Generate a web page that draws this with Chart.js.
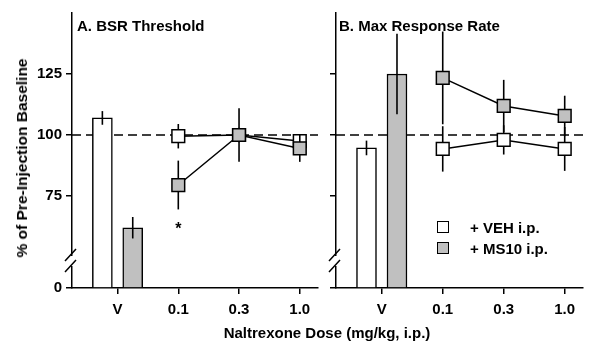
<!DOCTYPE html>
<html>
<head>
<meta charset="utf-8">
<script src="https://cdn.jsdelivr.net/npm/chart.js@4/dist/chart.umd.min.js"></script>
<style>
  body { margin: 0; background: #fff; }
  #wrap { position: relative; width: 600px; height: 353px; overflow: hidden; font-family: "Liberation Sans", Arial, sans-serif; font-weight: bold; color: #000; }
  canvas { position: absolute; top: 0; }
  .txt { position: absolute; font-size: 15px; line-height: 18px; white-space: nowrap; }
  .box { position: absolute; width: 10px; height: 10px; border: 1.5px solid #000; }
</style>
</head>
<body>
<div id="wrap">
  <canvas id="chartA" width="320" height="353" style="left:0"></canvas>
  <canvas id="chartB" width="280" height="353" style="left:320px"></canvas>
  <div class="txt" style="left:22px; top:158px; transform: translate(-50%, -50%) rotate(-90deg); font-size:15.5px">% of Pre-Injection Baseline</div>
  <div class="txt" style="left:77px; top:17px">A. BSR Threshold</div>
  <div class="txt" style="left:339px; top:17px">B. Max Response Rate</div>
  <div class="txt" style="left:327px; top:324px; transform: translateX(-50%)">Naltrexone Dose (mg/kg, i.p.)</div>
  <div class="box" style="left:437px; top:221px; background:#fff"></div>
  <div class="box" style="left:437px; top:242px; background:#c0c0c0"></div>
  <div class="txt" style="left:470px; top:219px">+ VEH i.p.</div>
  <div class="txt" style="left:470px; top:240px">+ MS10 i.p.</div>
</div>
<script>
// doses along the x axis (V = vehicle, shown as bars)
const doseLabels = ["V", "0.1", "0.3", "1.0"];
const doseX = [0, 1, 2, 3];
const barX = [-0.25, 0.25];
const yTicks = [0, 75, 100, 125];

// A. BSR threshold
const bsrBars = [107, 62];
const bsrBarsErr = [2.8, 4.4];
const bsrVeh = [99.5, 100, 97.5];
const bsrVehErr = [5, 3, 2];
const bsrMs10 = [79.5, 100, 94.5];
const bsrMs10Err = [10, 11, 5.5];
const bsrSignif = [1]; // asterisk under MS10 at 0.1

// B. max response rate
const rateBars = [94.7, 125];
const rateBarsErr = [3, 16.5];
const rateVeh = [94.3, 98, 94.3];
const rateVehErr = [9.3, 6, 9];
const rateMs10 = [123.4, 111.9, 107.8];
const rateMs10Err = [19, 10.7, 8.3];

const GRAY = "#c0c0c0";
const Y_BOTTOM = 37.3; // value where the broken axis shows "0"
const FONT = { family: "'Liberation Sans', Arial, sans-serif", size: 15, weight: "bold" };

function drawErr(chart, meta, errs) {
  const ctx = chart.ctx;
  const y = chart.scales.y;
  const vals = meta._dataset.data;
  ctx.save();
  ctx.strokeStyle = "#000";
  ctx.lineWidth = 1.6;
  meta.data.forEach((el, i) => {
    const v = typeof vals[i] === "object" ? vals[i].y : vals[i];
    ctx.beginPath();
    ctx.moveTo(el.x, y.getPixelForValue(v + errs[i]));
    ctx.lineTo(el.x, y.getPixelForValue(v - errs[i]));
    ctx.stroke();
  });
  ctx.restore();
}

const extras = {
  id: "extras",
  beforeDatasetsDraw(chart) {
    const { ctx, chartArea: a } = chart;
    const yp = chart.scales.y.getPixelForValue(100);
    ctx.save();
    ctx.strokeStyle = "#000";
    ctx.lineWidth = 1.5;
    ctx.setLineDash([9, 5]);
    ctx.beginPath();
    ctx.moveTo(a.left, yp);
    ctx.lineTo(a.right, yp);
    ctx.stroke();
    ctx.restore();
  },
  beforeDatasetDraw(chart, args) {
    const ds = chart.data.datasets[args.index];
    if (ds.type === "line") drawErr(chart, args.meta, ds.err);
  },
  afterDatasetDraw(chart, args) {
    const ds = chart.data.datasets[args.index];
    if (ds.type === "bar") drawErr(chart, args.meta, ds.err);
  },
  afterDraw(chart) {
    const { ctx, chartArea: a } = chart;
    const x0 = a.left;
    ctx.save();
    // axis break
    ctx.fillStyle = "#fff";
    ctx.fillRect(x0 - 3, a.bottom - 32, 6, 10);
    ctx.strokeStyle = "#000";
    ctx.lineWidth = 1.5;
    ctx.beginPath();
    ctx.moveTo(x0 - 7, a.bottom - 27); ctx.lineTo(x0 + 4, a.bottom - 39);
    ctx.moveTo(x0 - 7, a.bottom - 16); ctx.lineTo(x0 + 4, a.bottom - 28);
    ctx.stroke();
    // significance marks
    const sig = chart.options.plugins.extras.signif || [];
    const xs = chart.scales.x, ys = chart.scales.y;
    ctx.fillStyle = "#000";
    ctx.font = "bold 16px 'Liberation Sans', Arial, sans-serif";
    ctx.textAlign = "center";
    ctx.textBaseline = "middle";
    sig.forEach(d => {
      const i = doseX.indexOf(d) - 1;
      const v = bsrMs10[i] - bsrMs10Err[i];
      ctx.fillText("*", xs.getPixelForValue(d), ys.getPixelForValue(v) + 20);
    });
    ctx.restore();
  }
};

function makeChart(id, bars, barsErr, veh, vehErr, ms10, ms10Err, showYLabels, yWidth, padRight, signif) {
  const pts = vals => vals.map((v, i) => ({ x: doseX[i + 1], y: v }));
  const lineDs = (label, vals, errs, fill, order) => ({
    type: "line", label, data: pts(vals), err: errs, order,
    borderColor: "#000", borderWidth: 1.5, tension: 0,
    pointStyle: "rect", pointRadius: 9, pointHoverRadius: 9,
    pointBackgroundColor: fill, pointBorderColor: "#000", pointBorderWidth: 1.5
  });
  const barDs = (label, i, fill) => ({
    type: "bar", label, data: [{ x: barX[i], y: bars[i] }], err: [barsErr[i]], order: 3,
    backgroundColor: fill, borderColor: "#000", borderWidth: 1.5, borderSkipped: "start",
    barThickness: 20, grouped: false, base: Y_BOTTOM
  });
  return new Chart(document.getElementById(id), {
    data: {
      datasets: [
        barDs("VEH", 0, "#fff"),
        barDs("MS10", 1, GRAY),
        lineDs("VEH", veh, vehErr, "#fff", 2),
        lineDs("MS10", ms10, ms10Err, GRAY, 1)
      ]
    },
    options: {
      responsive: false,
      animation: false,
      devicePixelRatio: 1,
      layout: { autoPadding: false, padding: { top: 13, right: padRight, left: 0, bottom: 0 } },
      plugins: { legend: { display: false }, tooltip: { enabled: false }, extras: { signif } },
      scales: {
        x: {
          type: "linear", min: -0.75, max: 3.3, offset: false,
          afterBuildTicks: s => { s.ticks = doseX.map(v => ({ value: v })); },
          afterFit: s => { s.height = 65; s.paddingLeft = 0; s.paddingRight = 0; },
          ticks: { callback: v => doseLabels[doseX.indexOf(v)], font: FONT, color: "#000", padding: 7, maxRotation: 0, autoSkip: false },
          grid: { offset: false, drawOnChartArea: false, drawTicks: true, tickLength: 6, color: "#000", lineWidth: 1.5 },
          border: { color: "#000", width: 1.5 }
        },
        y: {
          type: "linear", min: Y_BOTTOM, max: 150,
          afterBuildTicks: s => { s.ticks = yTicks.map(v => ({ value: v === 0 ? Y_BOTTOM : v })); },
          afterFit: s => { s.width = yWidth; s.paddingTop = 0; s.paddingBottom = 0; },
          ticks: { callback: v => showYLabels ? (v === Y_BOTTOM ? "0" : v) : "", font: FONT, color: "#000", padding: 4 },
          grid: { drawOnChartArea: false, drawTicks: true, tickLength: 6, color: "#000", lineWidth: 1.5 },
          border: { color: "#000", width: 1.5 }
        }
      }
    },
    plugins: [extras]
  });
}

makeChart("chartA", bsrBars, bsrBarsErr, bsrVeh, bsrVehErr, bsrMs10, bsrMs10Err, true, 72, 2, bsrSignif);
makeChart("chartB", rateBars, rateBarsErr, rateVeh, rateVehErr, rateMs10, rateMs10Err, false, 16, 17, []);
</script>
</body>
</html>
